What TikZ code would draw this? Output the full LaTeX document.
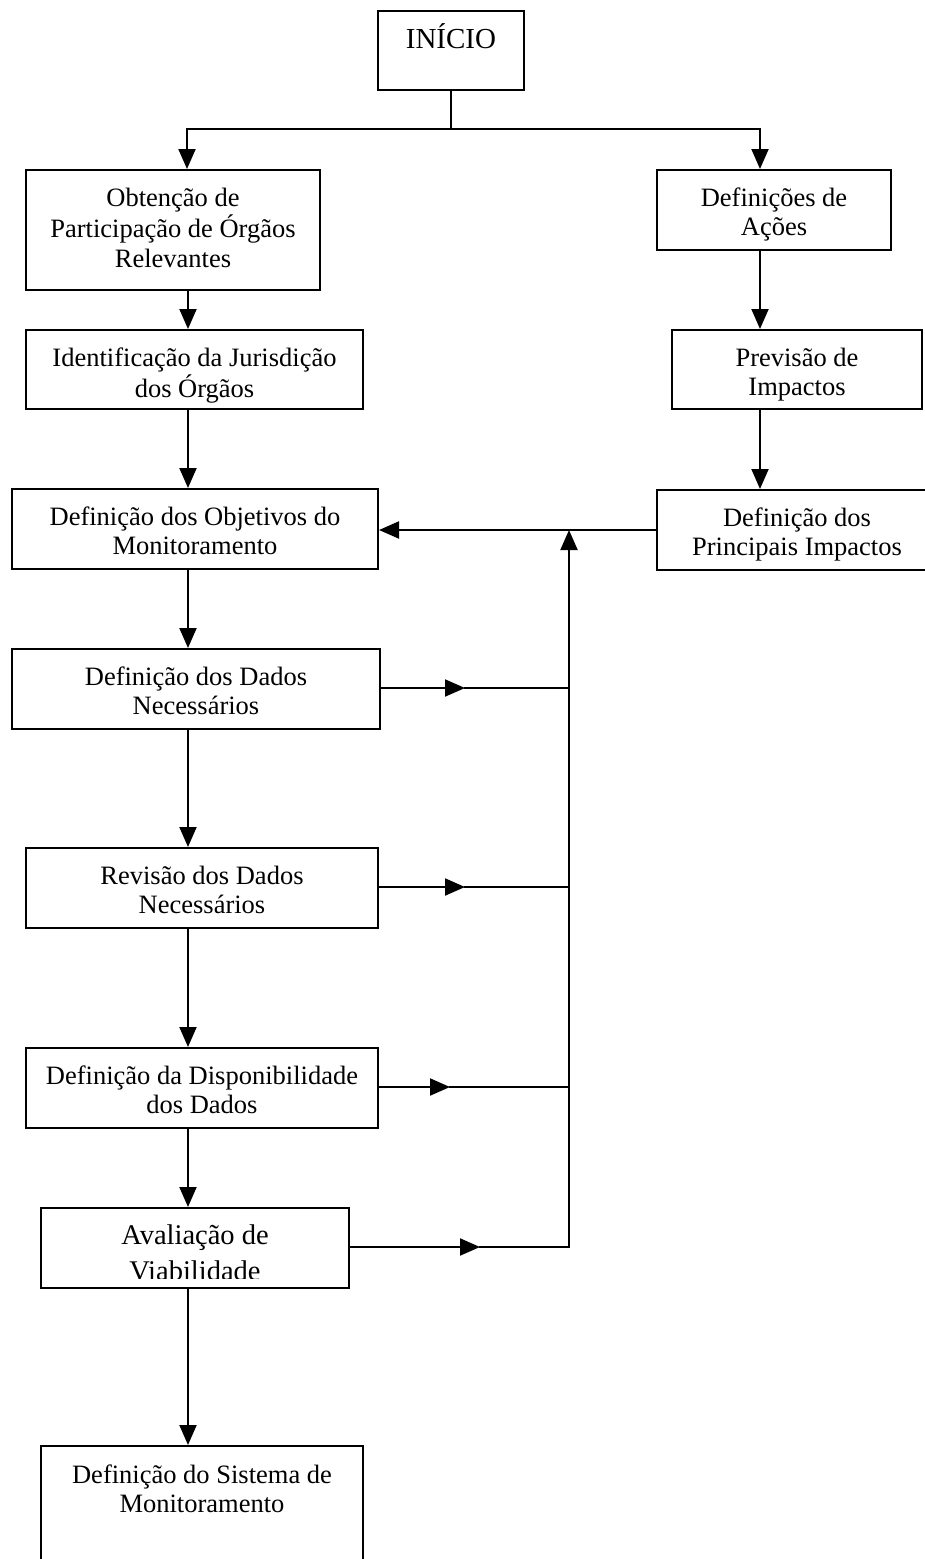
\documentclass[tikz,border=0pt]{standalone}
\usepackage{fontspec}
\setmainfont{Liberation Serif}
\usetikzlibrary{arrows.meta}
% centred lines, baseline on the first one
\newcommand\boxlines[1]{\begin{tabular}[t]{@{}c@{}}#1\end{tabular}}
\begin{document}
\begin{tikzpicture}[x=1pt,y=-1pt,
  box/.style={draw, line width=2pt, rectangle, inner sep=0pt, anchor=north,
              text height=36pt, font=\fontsize{26.5}{29.5}\selectfont},
  txt/.style={inner sep=0pt, anchor=north},
  ln/.style={line width=2pt, line cap=rect},
  arr/.style={line width=2pt, -{Triangle[length=20pt,width=17pt]}}]
\useasboundingbox (0,0) rectangle (925,1559);

% start box
\node[box, minimum width=146pt, text height=37pt, text depth=42pt,
      font=\fontsize{29}{32}\selectfont] (inicio) at (451,10) {INÍCIO};

% left column
\node[box, minimum width=294pt, text depth=84pt] (obt) at (173,169)
  {\boxlines{Obtenção de\\Participação de Órgãos\\Relevantes}};
\node[box, minimum width=337pt, text depth=43pt] (ident) at (194.5,329)
  {\boxlines{Identificação da Jurisdição\\dos Órgãos}};
\node[box, minimum width=366pt, text depth=44pt] (obj) at (195,488)
  {\boxlines{Definição dos Objetivos do\\Monitoramento}};
\node[box, minimum width=368pt, text depth=44pt] (dados) at (196,648)
  {\boxlines{Definição dos Dados\\Necessários}};
\node[box, minimum width=352pt, text depth=44pt] (rev) at (202,847)
  {\boxlines{Revisão dos Dados\\Necessários}};
\node[box, minimum width=352pt, text depth=44pt] (disp) at (202,1047)
  {\boxlines{Definição da Disponibilidade\\dos Dados}};
\node[box, minimum width=308pt, text height=0pt, text depth=80pt] (aval) at (195,1207) {};
\begin{scope}
  % the lower line of this label is cut by its frame
  \clip (aval.north west) rectangle ([yshift=11pt]aval.south east);
  \node[txt, text height=37pt, text depth=43pt,
        font=\fontsize{28.5}{36}\selectfont] (avalt) at (aval.north)
    {\boxlines{Avaliação de\\Viabilidade}};
\end{scope}
\node[box, minimum width=322pt, text height=37pt, text depth=130pt] (sis) at (202,1445)
  {\boxlines{Definição do Sistema de\\Monitoramento}};

% right column
\node[box, minimum width=234pt, text depth=44pt] (acoes) at (774,169)
  {\boxlines{Definições de\\Ações}};
\node[box, minimum width=250pt, text depth=43pt] (prev) at (797,329)
  {\boxlines{Previsão de\\Impactos}};
\node[box, minimum width=280pt, text depth=44pt] (princ) at (797,489)
  {\boxlines{Definição dos\\Principais Impactos}};

% branching below the start box
\coordinate (split) at (451,129);
\coordinate (lsplit) at (187,129);
\coordinate (rsplit) at (760,129);
\draw[ln] (inicio.south) -- (split);
\draw[ln] (lsplit) -- (rsplit);
\draw[arr] (lsplit) -- (lsplit |- obt.north);
\draw[arr] (rsplit) -- (rsplit |- acoes.north);

% main flow, left
\coordinate (col) at (188,0);
\draw[arr] (col |- obt.south) -- (col |- ident.north);
\draw[arr] (col |- ident.south) -- (col |- obj.north);
\draw[arr] (col |- obj.south) -- (col |- dados.north);
\draw[arr] (col |- dados.south) -- (col |- rev.north);
\draw[arr] (col |- rev.south) -- (col |- disp.north);
\draw[arr] (col |- disp.south) -- (col |- aval.north);
\draw[arr] (col |- aval.south) -- (col |- sis.north);

% main flow, right
\coordinate (rcol) at (760,0);
\draw[arr] (rcol |- acoes.south) -- (rcol |- prev.north);
\draw[arr] (rcol |- prev.south) -- (rcol |- princ.north);

% feedback to the objectives
\coordinate (bus) at (569,0);
\draw[arr] (princ.west) -- (princ.west -| obj.east);
\coordinate (m1) at (465,688);
\coordinate (m2) at (465,887);
\coordinate (m3) at (450,1087);
\coordinate (m4) at (480,1247);
\draw[arr] (dados.east |- m1) -- (m1);
\draw[ln] (m1) -- (bus |- m1);
\draw[arr] (rev.east |- m2) -- (m2);
\draw[ln] (m2) -- (bus |- m2);
\draw[arr] (disp.east |- m3) -- (m3);
\draw[ln] (m3) -- (bus |- m3);
\draw[arr] (aval.east |- m4) -- (m4);
\draw[ln] (m4) -- (bus |- m4);
\draw[arr, shorten <=-1pt] (bus |- m4) -- (bus |- princ.west);
\end{tikzpicture}
\end{document}
